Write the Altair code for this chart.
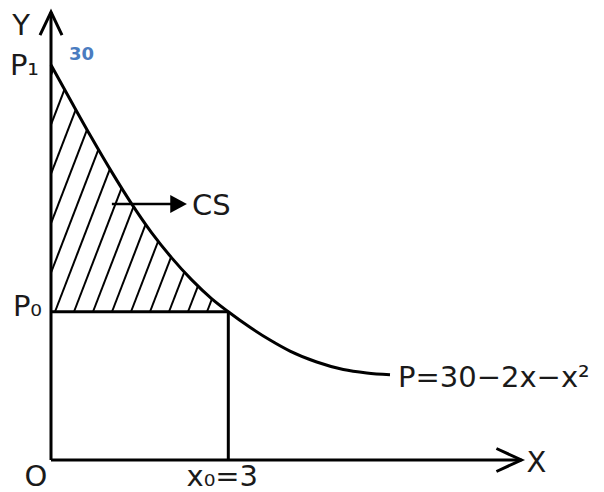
import altair as alt
import numpy as np
import pandas as pd

# ---------------- data ----------------
# demand curve as drawn (quantity x, price P)
curve_x = [0.0, 0.347, 0.685, 1.024, 1.362, 1.701, 2.039, 2.377, 2.716, 3.0,
           3.367, 3.706, 4.044, 4.496, 4.946, 5.342, 5.736]
curve_p = [30.0, 27.19, 24.49, 21.90, 19.47, 17.27, 15.37, 13.70, 12.26, 11.26,
           10.08, 9.11, 8.27, 7.44, 6.87, 6.61, 6.47]
x0 = 3.0          # equilibrium quantity
p0 = 11.26        # market price P0 (as drawn)
p1 = 30.0         # intercept P1
cs_arrow_x = [1.03, 2.30]   # "CS" pointer
cs_arrow_y = 19.44
x_axis_end = 7.96
y_axis_end = 34.02

axis_names = ["Y", "X", "O"]
price_names = ["P\u2081", "P\u2080"]
quantity_name = "x\u2080=3"
intercept_value = "30"
cs_name = "CS"
curve_name = "P=30\u22122x\u2212x\u00b2"

# ---------------- layout (pixels) ----------------
W, H = 588, 484
ORIGIN = (43, 452)          # plot-area pixel of (0, 0)
PX_X, PX_Y = 59.1, 13.167   # pixels per unit
x_dom = [-ORIGIN[0] / PX_X, (W - ORIGIN[0]) / PX_X]
y_dom = [-(H - ORIGIN[1]) / PX_Y, ORIGIN[1] / PX_Y]
xs = alt.Scale(domain=x_dom, nice=False, zero=False)
ys = alt.Scale(domain=y_dom, nice=False, zero=False)

INK = "#000000"
TXT = "#1a1a1a"
FONT = "DejaVu Sans"


def enc(seg=False):
    e = dict(x=alt.X("x:Q", scale=xs, axis=None), y=alt.Y("y:Q", scale=ys, axis=None))
    if seg:
        e.update(x2=alt.X2("x2:Q"), y2=alt.Y2("y2:Q"))
    return e


# ---------------- hatch lines for the CS area ----------------
slope = 2.6 * PX_X / PX_Y
spacing = 19.0 / PX_X
phase = 4.0 / PX_X
grid = np.linspace(0, x0, 3000)
cgrid = np.interp(grid, curve_x, curve_p)
hatch = []
k = -int(np.ceil((p1 - p0) / slope / spacing)) - 1
while phase + k * spacing < x0:
    xb = phase + k * spacing
    k += 1
    sx = max(xb, 0.0)
    sy = p0 + slope * (sx - xb)
    if sy >= np.interp(sx, curve_x, curve_p):
        continue
    ly = p0 + slope * (grid - xb)
    ok = (grid >= sx) & (ly >= cgrid)
    if not ok.any():
        continue
    i = np.argmax(ok)
    hatch.append(dict(x=sx, y=sy, x2=grid[i], y2=cgrid[i]))
hatch_df = pd.DataFrame(hatch)

# ---------------- layers ----------------
curve_df = pd.DataFrame({"x": curve_x, "y": curve_p})
curve = alt.Chart(curve_df).mark_line(color=INK, strokeWidth=3, interpolate="monotone").encode(**enc())

hatch_layer = alt.Chart(hatch_df).mark_rule(color=INK, strokeWidth=2).encode(**enc(True))

frame_df = pd.DataFrame([
    dict(x=0.0, y=0.0, x2=0.0, y2=y_axis_end),
    dict(x=0.0, y=0.0, x2=x_axis_end, y2=0.0),
    dict(x=0.0, y=p0, x2=x0, y2=p0),
    dict(x=x0, y=0.0, x2=x0, y2=p0),
])
frame = alt.Chart(frame_df).mark_rule(color=INK, strokeWidth=3).encode(**enc(True))

shaft = alt.Chart(pd.DataFrame([dict(x=cs_arrow_x[0], y=cs_arrow_y,
                                     x2=cs_arrow_x[1] - 0.1, y2=cs_arrow_y)])).mark_rule(
    color=INK, strokeWidth=2.5).encode(**enc(True))

cs_head = alt.Chart(pd.DataFrame({"x": [cs_arrow_x[1]], "y": [cs_arrow_y]})).mark_point(
    shape="M -1 -0.54 L 0 0 L -1 0.54 Z", size=1115, filled=True, color=INK, opacity=1,
    strokeWidth=0).encode(**enc())

y_head = alt.Chart(pd.DataFrame({"x": [0.0], "y": [y_axis_end]})).mark_point(
    shape="M -0.478 1 L 0 0 L 0.478 1", size=2116, filled=False, color=INK, opacity=1,
    strokeWidth=3).encode(**enc())
x_head = alt.Chart(pd.DataFrame({"x": [x_axis_end], "y": [0.0]})).mark_point(
    shape="M -1 -0.46 L 0 0 L -1 0.46", size=2500, filled=False, color=INK, opacity=1,
    strokeWidth=3).encode(**enc())


def label(text, x, y, dx, dy, align="left", size=29, color=TXT, weight="normal"):
    return alt.Chart(pd.DataFrame({"x": [x], "y": [y]})).mark_text(
        text=text, font=FONT, fontSize=size, color=color, fontWeight=weight,
        align=align, baseline="alphabetic", dx=dx, dy=dy).encode(**enc())


labels = [
    label(axis_names[0], 0.0, y_axis_end, -30, 23, "center"),
    label(axis_names[1], x_axis_end, 0.0, 5, 12, "left"),
    label(axis_names[2], 0.0, 0.0, -15, 26, "center"),
    label(price_names[0], 0.0, p1, -12, 10, "right"),
    label(price_names[1], 0.0, p0, -9, 4, "right"),
    label(quantity_name, x0, 0.0, -6, 26, "center"),
    label(intercept_value, 0.0, p1, 18, -5, "left", size=18, color="#4a7cc0", weight="bold"),
    label(cs_name, cs_arrow_x[1], cs_arrow_y, 5, 11, "left"),
    label(curve_name, curve_x[-1], curve_p[-1], 8, 12, "left"),
]

chart = alt.layer(hatch_layer, frame, curve, shaft, cs_head, y_head, x_head, *labels).properties(
    width=W, height=H, padding=0, autosize=alt.AutoSizeParams(type="none")
).configure_view(strokeWidth=0)

chart.save("out.html", embed_options={"renderer": "svg", "actions": False})
